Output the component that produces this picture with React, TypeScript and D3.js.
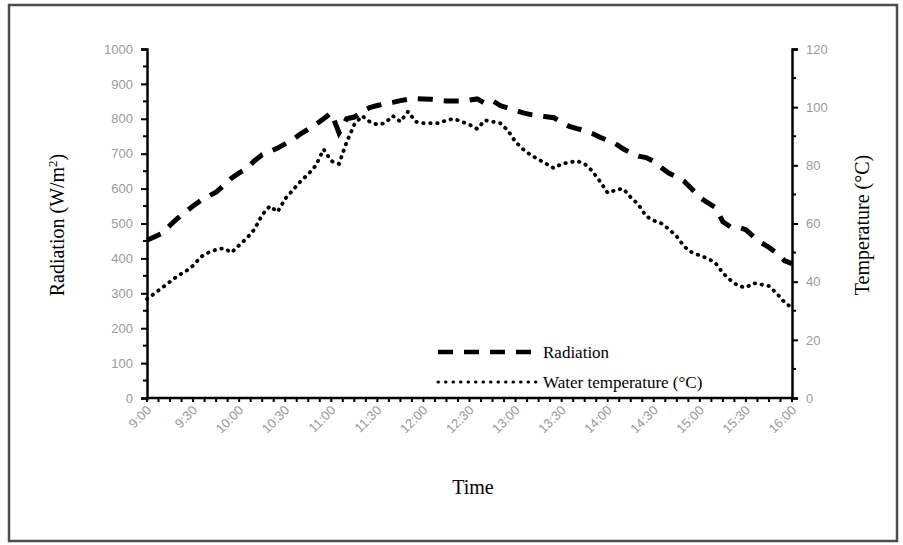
import React, { useEffect, useRef } from "react";
import * as d3 from "d3";

// time labels on the x axis (every 30 min)
const timeLabels = [
  "9:00", "9:30", "10:00", "10:30", "11:00", "11:30", "12:00", "12:30",
  "13:00", "13:30", "14:00", "14:30", "15:00", "15:30", "16:00",
];

// readings every 5 minutes from 9:00 to 16:00
const stepMinutes = 5;

const radiation = [
  452, 462, 472, 495, 515, 533, 550, 566, 578, 590, 609, 630, 645, 657, 680, 697,
  706, 716, 728, 740, 757, 770, 784, 800, 817, 760, 800, 805, 820, 832, 838, 843,
  847, 852, 856, 858, 857, 856, 853, 851, 851, 851, 854, 857, 845, 852, 838, 831,
  824, 817, 812, 809, 806, 803, 790, 778, 772, 766, 758, 747, 738, 729, 714, 702,
  693, 689, 678, 660, 644, 633, 620, 598, 574, 560, 546, 505, 490, 489, 482, 462,
  445, 432, 415, 394, 385,
];

const waterTemp = [
  34.0, 36.0, 38.0, 40.0, 42.0, 43.5, 45.5, 48.5, 50.0, 51.0, 51.5, 50.0, 52.5, 55.0,
  58.0, 63.0, 66.0, 64.0, 68.5, 71.5, 74.5, 77.0, 80.0, 85.5, 81.5, 80.5, 88.0, 94.0,
  97.0, 95.0, 94.0, 94.5, 97.0, 95.0, 98.5, 95.0, 94.5, 94.5, 94.5, 95.5, 96.0, 95.0,
  94.0, 92.5, 95.5, 95.0, 94.5, 92.0, 88.0, 85.5, 83.5, 82.0, 80.5, 79.0, 80.5, 81.0,
  81.5, 80.5, 78.0, 74.5, 70.5, 71.5, 72.0, 69.0, 66.5, 62.5, 61.0, 60.0, 58.0, 55.5,
  52.0, 50.0, 49.0, 48.0, 46.5, 43.0, 40.5, 38.5, 38.0, 39.5, 39.0, 38.5, 36.0, 33.0,
  31.0,
];

const radTicks = [0, 100, 200, 300, 400, 500, 600, 700, 800, 900, 1000];
const tempTicks = [0, 20, 40, 60, 80, 100, 120];

const W = 903;
const H = 545;

const App = () => {
  const svgRef = useRef<SVGSVGElement>(null);

  useEffect(() => {
    const svg = d3.select(svgRef.current);
    svg.selectAll("*").remove();

    const left = 147;
    const right = 792;
    const top = 49;
    const bottom = 398;

    const x = d3.scaleLinear().domain([0, 420]).range([left, right]);
    const yRad = d3.scaleLinear().domain([0, 1000]).range([bottom, top]);
    const yTemp = d3.scaleLinear().domain([0, 120]).range([bottom, top]);

    const serif = "'Liberation Serif', 'Times New Roman', serif";
    const sans = "'Liberation Sans', Arial, sans-serif";
    const tickGrey = "#9a9a9a";

    svg.append("rect").attr("width", W).attr("height", H).attr("fill", "#fff");

    // outer frame
    svg
      .append("rect")
      .attr("x", 9)
      .attr("y", 5)
      .attr("width", 888)
      .attr("height", 536)
      .attr("fill", "none")
      .attr("stroke", "#4d4d4d")
      .attr("stroke-width", 2.5);

    // left axis
    const leftAxis = d3
      .axisLeft(yRad)
      .tickValues(radTicks)
      .tickSize(6)
      .tickPadding(8)
      .tickFormat(d3.format("d"));
    const gl = svg.append("g").attr("transform", `translate(${left},0)`).call(leftAxis);
    gl.select(".domain").attr("stroke", "#000").attr("stroke-width", 2.5);
    gl.selectAll(".tick line").attr("stroke", "#000").attr("stroke-width", 2);
    gl.selectAll("text")
      .attr("fill", tickGrey)
      .style("font-family", sans)
      .style("font-size", "13px");
    svg
      .append("g")
      .selectAll("line")
      .data(d3.range(50, 1000, 100))
      .join("line")
      .attr("x1", left - 4)
      .attr("x2", left)
      .attr("y1", (d) => yRad(d))
      .attr("y2", (d) => yRad(d))
      .attr("stroke", "#000")
      .attr("stroke-width", 2);

    // right axis
    const rightAxis = d3
      .axisRight(yTemp)
      .tickValues(tempTicks)
      .tickSize(6)
      .tickPadding(8)
      .tickFormat(d3.format("d"));
    const gr = svg.append("g").attr("transform", `translate(${right},0)`).call(rightAxis);
    gr.select(".domain").attr("stroke", "#000").attr("stroke-width", 2.5);
    gr.selectAll(".tick line").attr("stroke", "#000").attr("stroke-width", 2);
    gr.selectAll("text")
      .attr("fill", tickGrey)
      .style("font-family", sans)
      .style("font-size", "13px");
    svg
      .append("g")
      .selectAll("line")
      .data(d3.range(10, 120, 20))
      .join("line")
      .attr("x1", right)
      .attr("x2", right + 4)
      .attr("y1", (d) => yTemp(d))
      .attr("y2", (d) => yTemp(d))
      .attr("stroke", "#000")
      .attr("stroke-width", 2);

    // x axis
    svg
      .append("line")
      .attr("x1", left)
      .attr("x2", right)
      .attr("y1", bottom)
      .attr("y2", bottom)
      .attr("stroke", "#000")
      .attr("stroke-width", 2.5);
    svg
      .append("g")
      .selectAll("line")
      .data(d3.range(0, 420.1, 7.5))
      .join("line")
      .attr("x1", (d) => x(d))
      .attr("x2", (d) => x(d))
      .attr("y1", bottom)
      .attr("y2", bottom + 4)
      .attr("stroke", "#000")
      .attr("stroke-width", 2);

    svg
      .append("g")
      .selectAll("text")
      .data(timeLabels)
      .join("text")
      .attr("transform", (d, i) => `translate(${x(i * 30) + 5},${bottom + 13}) rotate(-45)`)
      .attr("text-anchor", "end")
      .attr("fill", tickGrey)
      .style("font-family", sans)
      .style("font-size", "13px")
      .text((d) => d);

    // series
    const radLine = d3
      .line<number>()
      .x((d, i) => x(i * stepMinutes))
      .y((d) => yRad(d));
    const tempLine = d3
      .line<number>()
      .x((d, i) => x(i * stepMinutes))
      .y((d) => yTemp(d));

    svg
      .append("path")
      .datum(radiation)
      .attr("d", radLine)
      .attr("fill", "none")
      .attr("stroke", "#000")
      .attr("stroke-width", 5)
      .attr("stroke-dasharray", "15 11");

    svg
      .append("path")
      .datum(waterTemp)
      .attr("d", tempLine)
      .attr("fill", "none")
      .attr("stroke", "#000")
      .attr("stroke-width", 3.8)
      .attr("stroke-linecap", "round")
      .attr("stroke-dasharray", "0.5 6.5");

    // axis titles
    svg
      .append("text")
      .attr("transform", `translate(64,225) rotate(-90)`)
      .attr("text-anchor", "middle")
      .style("font-family", serif)
      .style("font-size", "20px")
      .call((t) => {
        t.append("tspan").text("Radiation (W/m");
        t.append("tspan").attr("dy", -7).style("font-size", "13px").text("2");
        t.append("tspan").attr("dy", 7).text(")");
      });

    svg
      .append("text")
      .attr("transform", `translate(869,225) rotate(-90)`)
      .attr("text-anchor", "middle")
      .style("font-family", serif)
      .style("font-size", "20px")
      .text("Temperature (°C)");

    svg
      .append("text")
      .attr("x", 473)
      .attr("y", 494)
      .attr("text-anchor", "middle")
      .style("font-family", serif)
      .style("font-size", "20px")
      .text("Time");

    // legend
    const legend = svg.append("g");
    legend
      .append("line")
      .attr("x1", 438)
      .attr("x2", 540)
      .attr("y1", 352)
      .attr("y2", 352)
      .attr("stroke", "#000")
      .attr("stroke-width", 4.5)
      .attr("stroke-dasharray", "15 11");
    legend
      .append("text")
      .attr("x", 543)
      .attr("y", 358)
      .style("font-family", serif)
      .style("font-size", "17px")
      .text("Radiation");
    legend
      .append("line")
      .attr("x1", 438)
      .attr("x2", 540)
      .attr("y1", 382)
      .attr("y2", 382)
      .attr("stroke", "#000")
      .attr("stroke-width", 3)
      .attr("stroke-linecap", "round")
      .attr("stroke-dasharray", "0.5 7");
    legend
      .append("text")
      .attr("x", 543)
      .attr("y", 388)
      .style("font-family", serif)
      .style("font-size", "17px")
      .text("Water temperature (°C)");
  }, []);

  return (
    <svg
      ref={svgRef}
      width={W}
      height={H}
      style={{ position: "absolute", left: 0, top: 0 }}
    ></svg>
  );
};

export default App;
